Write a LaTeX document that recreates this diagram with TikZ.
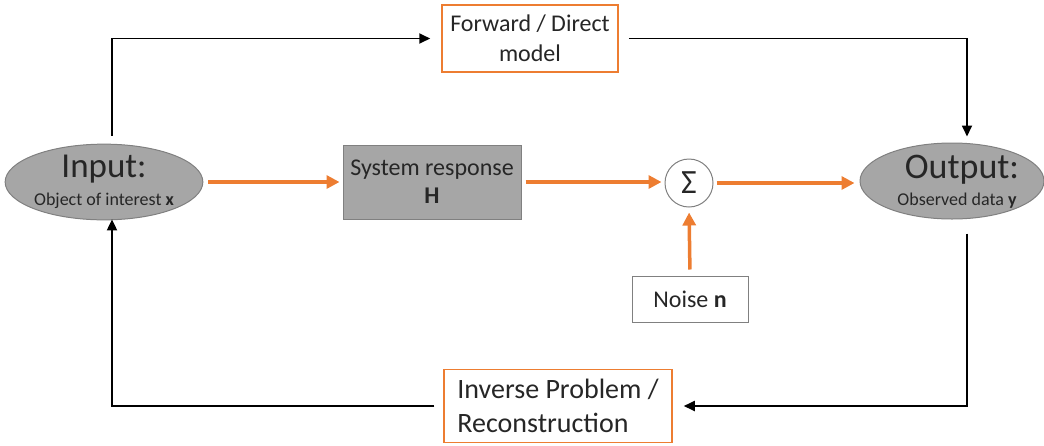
\documentclass[tikz,border=0pt]{standalone}
\usepackage{fontspec}
\setmainfont{Carlito}
\usetikzlibrary{arrows.meta,shapes.geometric}
\definecolor{orng}{HTML}{ED7D31}
\definecolor{fillg}{HTML}{A6A6A6}
\definecolor{edgeg}{HTML}{808080}
\definecolor{txt}{HTML}{262626}
\begin{document}
\begin{tikzpicture}[x=1pt,y=-1pt,
  ell/.style={ellipse, fill=fillg, draw=edgeg, line width=1pt, inner sep=0pt, align=center, text=txt},
  sysbox/.style={rectangle, fill=fillg, draw=edgeg, line width=1pt, inner sep=0pt, align=center, text=txt},
  obox/.style={rectangle, draw=orng, line width=1.5pt, fill=white, inner sep=0pt, text=txt},
  gbox/.style={rectangle, draw=edgeg, line width=1pt, inner sep=0pt, text=txt},
  oarrow/.style={draw=orng, line width=3.5pt, -{Triangle[length=13pt,width=13pt]}},
  barrow/.style={draw=black, line width=1.8pt, -{Triangle[length=11pt,width=10pt]}}
]
\useasboundingbox (0,0) rectangle (1044,445);

\node[ell, minimum width=194pt, minimum height=75pt,
      font=\fontsize{18}{29}\selectfont] (in) at (104,182)
  {{\fontsize{35}{29}\selectfont Input:}\\[-1pt]Object of interest \textbf{x}};

\node[ell, minimum width=184pt, minimum height=76pt] (out) at (952,181) {};
\node[align=center, text=txt, font=\fontsize{18}{27}\selectfont, inner sep=0pt] (outtxt) at (957,182)
  {\hspace*{10pt}{\fontsize{36}{27}\selectfont Output:}\\Observed data \textbf{y}};

\node[sysbox, minimum width=178pt, minimum height=74pt,
      font=\fontsize{24}{28}\selectfont] (sys) at (432,182)
  {System response\\\textbf{H}};

\node[circle, draw=edgeg, line width=1pt, minimum size=48pt, inner sep=0pt,
      font=\fontsize{34}{34}\selectfont, text=txt] (sig) at (689,183) {Σ};

\node[gbox, minimum width=116pt, minimum height=46pt,
      font=\fontsize{24}{28}\selectfont] (noise) at (690,299) {Noise \textbf{n}};

\node[obox, minimum width=176pt, minimum height=67pt, align=center,
      font=\fontsize{24}{30}\selectfont] (fw) at (530,38.5) {Forward / Direct\\model};

\node[obox, minimum width=228pt, minimum height=73pt, align=left,
      font=\fontsize{28}{34}\selectfont] (inv) at (558,406) {Inverse Problem /\\Reconstruction};

% orange signal path
\draw[oarrow, shorten <=5pt, shorten >=3pt] (in.east) -- (sys.west |- in.east);
\draw[oarrow, shorten <=4pt, shorten >=3pt] (sys.east) -- (sig.west |- sys.east);
\draw[oarrow, shorten <=3pt, shorten >=5pt] (sig.east) -- (out.west |- sig.east);
\draw[oarrow, shorten <=6pt, shorten >=5pt] (noise.north) -- (sig.south);

% black loop
\draw[barrow, shorten <=8pt, shorten >=11pt] ([xshift=8pt]in.north) |- (fw.west);
\draw[barrow, shorten <=10pt, shorten >=6pt] (fw.east) -| ([xshift=15pt]out.north);
\draw[barrow, shorten <=14pt, shorten >=11pt] ([xshift=15pt]out.south) |- (inv.east);
\draw[barrow, shorten <=9pt, shorten >=-1pt] (inv.west) -| ([xshift=8pt]in.south);
\end{tikzpicture}
\end{document}
